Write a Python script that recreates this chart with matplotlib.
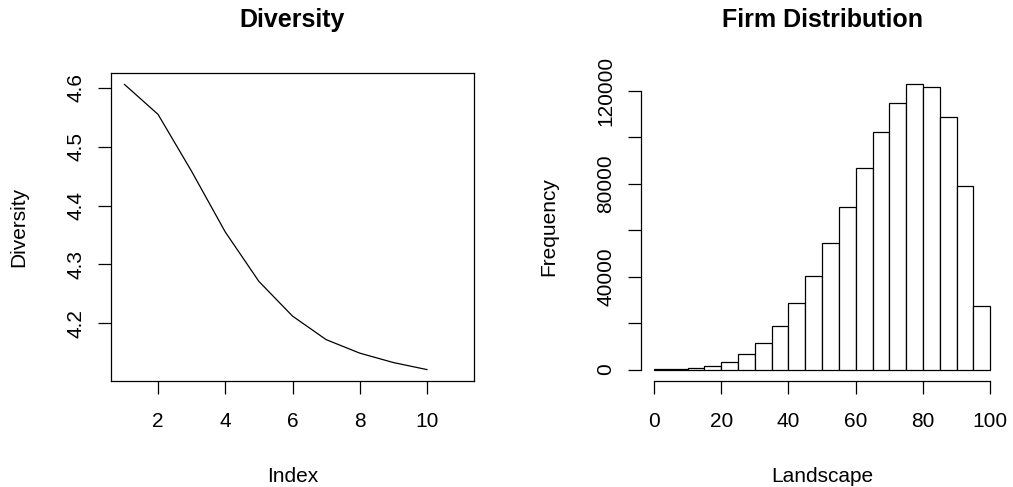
import matplotlib

matplotlib.use("Agg")
import numpy as np
import matplotlib.pyplot as plt

plt.rcParams["font.family"] = ["Liberation Sans", "DejaVu Sans"]

# left panel: diversity by index
index = np.arange(1, 11)
diversity = [4.606, 4.555, 4.458, 4.355, 4.271, 4.212, 4.172, 4.149, 4.133, 4.121]

# right panel: histogram of landscape values (bins of width 5)
bin_edges = np.arange(0, 105, 5)
counts = [200, 300, 600, 1500, 3200, 6500, 11300, 18600, 28500, 40100,
          54600, 70200, 86900, 102100, 114700, 122800, 121700, 108700, 79200, 27300]

LW = 0.9
TICK_FS = 15
TITLE_FS = 18


def r_style(ax):
    ax.tick_params(direction="out", length=9.4, width=LW, labelsize=TICK_FS, color="black")
    for lab in ax.get_yticklabels():
        lab.set_rotation(90)
        lab.set_verticalalignment("center")


fig = plt.figure(figsize=(10.13, 4.87), dpi=100)
ax1 = fig.add_axes([111 / 1013, 106 / 487, 363 / 1013, 308 / 487])
ax2 = fig.add_axes([640.6 / 1013, 106 / 487, 363 / 1013, 308 / 487])

# --- Diversity line plot
ax1.plot(index, diversity, color="black", lw=LW)
ax1.set_xlim(0.6, 11.4)
lo, hi = min(diversity), max(diversity)
ax1.set_ylim(lo - 0.04 * (hi - lo), hi + 0.04 * (hi - lo))
ax1.set_xticks([2, 4, 6, 8, 10])
ax1.set_yticks([4.2, 4.3, 4.4, 4.5, 4.6])
for s in ax1.spines.values():
    s.set_linewidth(LW)
r_style(ax1)
ax1.tick_params(axis="x", pad=13)
ax1.tick_params(axis="y", pad=9)
ax1.set_title("Diversity", fontsize=TITLE_FS, fontweight="bold", y=1.149, pad=0)
ax1.set_xlabel("Index", fontsize=TICK_FS, va="baseline")
ax1.xaxis.set_label_coords(0.5, -0.327)
ax1.set_ylabel("Diversity", fontsize=TICK_FS, va="center")
ax1.yaxis.set_label_coords(-0.254, 0.5)

# --- Firm distribution histogram
ax2.bar(bin_edges[:-1], counts, width=np.diff(bin_edges), align="edge",
        color="white", edgecolor="black", linewidth=LW)
ax2.set_xlim(-4, 104)
top = max(counts)
ax2.set_ylim(-0.04 * top, 1.04 * top)
ax2.set_xticks([0, 20, 40, 60, 80, 100])
yt = np.arange(0, 140000, 20000)
ax2.set_yticks(yt)
ax2.set_yticklabels([str(v) if v % 40000 == 0 else "" for v in yt])
for side in ["top", "right"]:
    ax2.spines[side].set_visible(False)
ax2.spines["bottom"].set_bounds(0, 100)
ax2.spines["left"].set_bounds(0, 120000)
ax2.spines["bottom"].set_linewidth(LW)
ax2.spines["left"].set_linewidth(LW)
r_style(ax2)
ax2.tick_params(axis="x", pad=13)
ax2.tick_params(axis="y", pad=9)
ax2.set_title("Firm Distribution", fontsize=TITLE_FS, fontweight="bold", y=1.149, pad=0)
ax2.set_xlabel("Landscape", fontsize=TICK_FS, va="baseline")
ax2.xaxis.set_label_coords(0.5, -0.327)
ax2.set_ylabel("Frequency", fontsize=TICK_FS, va="center")
ax2.yaxis.set_label_coords(-0.253, 0.5)

fig.savefig("out.png", dpi=100)
plt.close(fig)
